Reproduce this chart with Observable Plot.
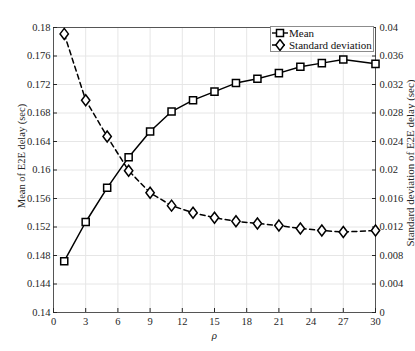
<!DOCTYPE html>
<html>
<head>
<meta charset="utf-8">
<script src="https://cdn.jsdelivr.net/npm/d3@7"></script>
<script src="https://cdn.jsdelivr.net/npm/@observablehq/plot@0.6"></script>
<style>
  body { margin: 0; background: #fff; }
  #wrap { position: relative; width: 415px; height: 351px; font-family: "Liberation Serif", "DejaVu Serif", serif; }
  #legend { position: absolute; left: 270px; top: 26px; width: 104px; height: 26px; background: #fff;
            border: 1px solid #8c8c8c; box-sizing: border-box; font-size: 11px; color: #111; }
  #legend .row { display: flex; align-items: center; height: 12px; line-height: 12px; }
  #legend svg { flex: none; }
</style>
</head>
<body>
<div id="wrap">
  <div id="legend">
    <div class="row"><svg width="18" height="12"><line x1="1" y1="6" x2="17" y2="6" stroke="#000" stroke-width="1.4"/><rect x="5.5" y="2.5" width="7" height="7" fill="#fff" stroke="#000" stroke-width="1.5"/></svg><span>Mean</span></div>
    <div class="row"><svg width="18" height="12"><line x1="1" y1="6" x2="17" y2="6" stroke="#000" stroke-width="1.4" stroke-dasharray="5,3"/><path d="M9,0.5L13.2,6L9,11.5L4.8,6Z" fill="#fff" stroke="#000" stroke-width="1.5"/></svg><span>Standard deviation</span></div>
  </div>
</div>
<script>
// ---- data ----
const rho = [1, 3, 5, 7, 9, 11, 13, 15, 17, 19, 21, 23, 25, 27, 30];
const meanDelay = [0.1472, 0.1527, 0.1575, 0.1618, 0.1654, 0.1682, 0.1698, 0.1710, 0.1722, 0.1728, 0.1736, 0.1745, 0.1750, 0.1755, 0.1749];
const stdDelay = [0.0391, 0.0298, 0.0247, 0.0199, 0.0168, 0.0150, 0.0140, 0.0133, 0.0128, 0.0125, 0.0122, 0.0118, 0.0115, 0.0113, 0.0115];
const xTicks = [0, 3, 6, 9, 12, 15, 18, 21, 24, 27, 30];
const leftTicks = [0.14, 0.144, 0.148, 0.152, 0.156, 0.16, 0.164, 0.168, 0.172, 0.176, 0.18];
const rightTicks = [0, 0.004, 0.008, 0.012, 0.016, 0.02, 0.024, 0.028, 0.032, 0.036, 0.04];
const xLabel = "ρ";
const leftLabel = "Mean of E2E delay (sec)";
const rightLabel = "Standard deviation of E2E delay (sec)";
const rightOffset = 0.14; // right axis (0..0.04) shares the left scale (0.14..0.18)

const meanData = rho.map((r, i) => ({rho: r, v: meanDelay[i]}));
const stdData = rho.map((r, i) => ({rho: r, v: stdDelay[i] + rightOffset}));
const rightPos = rightTicks.map(t => t + rightOffset);

const fmt = d => String(+(+d).toFixed(3));

const diamond = {
  draw(ctx, size) {
    const h = Math.sqrt(size) * 0.62, w = h * 0.76;
    ctx.moveTo(0, -h); ctx.lineTo(w, 0); ctx.lineTo(0, h); ctx.lineTo(-w, 0); ctx.closePath();
  }
};

const tc = "#262626";
const chart = Plot.plot({
  width: 415, height: 351,
  marginLeft: 53, marginRight: 40, marginTop: 27, marginBottom: 39,
  style: {fontFamily: "'Liberation Serif', 'DejaVu Serif', serif", fontSize: "10.5px", color: tc, background: "#fff"},
  x: {domain: [0, 30]},
  y: {domain: [0.14, 0.18]},
  marks: [
    Plot.gridX(xTicks, {stroke: "#e6e6e6", strokeOpacity: 1}),
    Plot.gridY(leftTicks, {stroke: "#e6e6e6", strokeOpacity: 1}),
    Plot.frame({stroke: "#555"}),
    Plot.axisX(xTicks, {tickSize: 0, tickPadding: 5, tickFormat: d => String(d), label: null}),
    Plot.axisX(xTicks, {tickSize: -4, tickFormat: () => "", label: null}),
    Plot.axisY(leftTicks, {anchor: "left", tickSize: 0, tickPadding: 3, tickFormat: fmt, label: null}),
    Plot.axisY(leftTicks, {anchor: "left", tickSize: -4, tickFormat: () => "", label: null}),
    Plot.axisY(rightPos, {anchor: "right", tickSize: 0, tickPadding: 4, tickFormat: d => fmt(d - rightOffset), label: null}),
    Plot.axisY(rightPos, {anchor: "right", tickSize: -4, tickFormat: () => "", label: null}),
    Plot.text([xLabel], {frameAnchor: "bottom", lineAnchor: "middle", dy: 23, fontStyle: "italic", fontFamily: "'Liberation Serif', serif", fontSize: 11, fill: tc}),
    Plot.text([leftLabel], {frameAnchor: "left", textAnchor: "middle", lineAnchor: "middle", rotate: -90, dx: -32, dy: -14, fontSize: 10.5, fill: tc}),
    Plot.text([rightLabel], {frameAnchor: "right", textAnchor: "middle", lineAnchor: "middle", rotate: -90, dx: 35, dy: -7, fontSize: 11, fill: tc}),
    Plot.line(meanData, {x: "rho", y: "v", stroke: "#000", strokeWidth: 1.5}),
    Plot.line(stdData, {x: "rho", y: "v", stroke: "#000", strokeWidth: 1.5, strokeDasharray: "5,3.5"}),
    Plot.dot(meanData, {x: "rho", y: "v", symbol: "square", r: 4, fill: "#fff", stroke: "#000", strokeWidth: 1.5}),
    Plot.dot(stdData, {x: "rho", y: "v", symbol: diamond, r: 5, fill: "#fff", stroke: "#000", strokeWidth: 1.5})
  ]
});
document.getElementById("wrap").prepend(chart);
</script>
</body>
</html>
